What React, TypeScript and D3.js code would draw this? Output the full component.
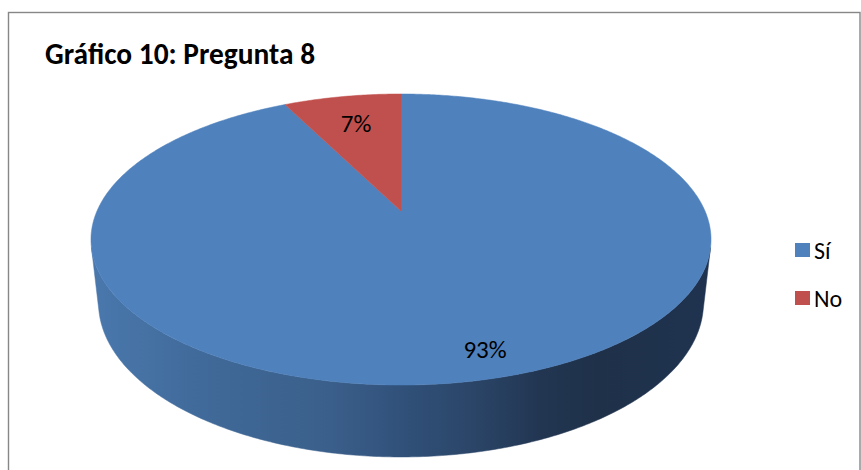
import React from "react";
import * as d3 from "d3";

const chartTitle = "Gráfico 10: Pregunta 8";
const categories = ["Sí", "No"];
const values = [25, 2];
const topColors = ["#4f81bd", "#c0504d"];
const sideStops = [
  ["#4a78ad", "#416b9b", "#3a5f8a", "#31517a", "#2a4466", "#223652", "#1f3149", "#1f3350"],
  ["#b04a47", "#a34442", "#943d3b", "#833634", "#712e2d", "#5f2726", "#522120", "#4f2120"],
];
const stopOffsets = [0, 0.16, 0.385, 0.5, 0.627, 0.724, 0.82, 1];

const W = 861;
const H = 470;
const FONT = "Carlito, Calibri, Lato, 'Noto Sans', sans-serif";

// perspective camera for the 3D pie
const CX = 401;
const CY = 211;
const SIN = 0.4603;
const COS = 0.8878;
const DIST = 4.532;
const FOC = 1377.8;
const THICK = 0.2362;

function proj(X: number, Y: number, Z: number): [number, number] {
  const d = DIST + Y * COS - Z * SIN;
  return [CX + (FOC * X) / d, CY - (FOC * (Y * SIN + Z * COS)) / d];
}
function pt(a: number, r: number, z: number): [number, number] {
  return proj(r * Math.sin(a), r * Math.cos(a), z);
}
function arcPts(a0: number, a1: number, r: number, z: number): [number, number][] {
  const n = Math.max(2, Math.ceil(Math.abs(a1 - a0) / 0.01));
  return d3.range(n + 1).map((i) => pt(a0 + ((a1 - a0) * i) / n, r, z));
}

export default function App() {
  const pie = d3
    .pie<number>()
    .sort(null)
    .value((d) => d)
    .startAngle(0)
    .endAngle(2 * Math.PI);
  const arcs = pie(values);
  const total = d3.sum(values);
  const fmt = d3.format(".0%");
  const line = d3.line().curve(d3.curveLinearClosed);

  // silhouette tangent angles of the cylinder side
  const yT = -1 / (DIST * COS);
  const xT = Math.sqrt(1 - yT * yT);
  const aR = Math.atan2(xT, yT);
  const aL = 2 * Math.PI - aR;
  const gx1 = pt(aL, 1, 0)[0];
  const gx2 = pt(aR, 1, 0)[0];

  const labelR = (v: number) => (v / total < 0.2 ? 0.73 : 0.86);

  return (
    <svg
      width={W}
      height={H}
      style={{ position: "absolute", left: 0, top: 0, background: "#fff" }}
    >
      <defs>
        {arcs.map((a, i) => (
          <linearGradient
            key={i}
            id={`side${i}`}
            gradientUnits="userSpaceOnUse"
            x1={gx1}
            x2={gx2}
            y1={0}
            y2={0}
          >
            {stopOffsets.map((o, j) => (
              <stop key={j} offset={o} stopColor={sideStops[i][j]} />
            ))}
          </linearGradient>
        ))}
      </defs>
      <rect x={8.5} y={12.5} width={851.5} height={500} fill="#fff" stroke="#878787" strokeWidth={1.4} />
      <text x={45} y={64} fontFamily={FONT} fontWeight="bold" fontSize={29.4} fill="#000">
        {chartTitle}
      </text>

      {/* sides */}
      {arcs.map((a, i) => {
        const lo = Math.max(a.startAngle, aR);
        const hi = Math.min(a.endAngle, aL);
        if (lo >= hi) return null;
        const pts = [...arcPts(lo, hi, 1, 0), ...arcPts(hi, lo, 1, -THICK)];
        return <path key={i} d={line(pts) || ""} fill={`url(#side${i})`} stroke={`url(#side${i})`} strokeWidth={0.5} />;
      })}

      {/* top faces */}
      {arcs.map((a, i) => {
        const pts: [number, number][] = [proj(0, 0, 0), ...arcPts(a.startAngle, a.endAngle, 1, 0)];
        return <path key={i} d={line(pts) || ""} fill={topColors[i]} stroke={topColors[i]} strokeWidth={0.5} />;
      })}

      {/* data labels */}
      {arcs.map((a, i) => {
        const mid = (a.startAngle + a.endAngle) / 2 - (a.value / total > 0.5 ? 0.04 : 0);
        const [x, y] = pt(mid, labelR(a.value), 0);
        return (
          <text key={i} x={x} y={y} textAnchor="middle" dominantBaseline="central" fontFamily={FONT} fontSize={25} fill="#000">
            {fmt(a.value / total)}
          </text>
        );
      })}

      {/* legend */}
      {categories.map((c, i) => (
        <g key={c} transform={`translate(795, ${243 + i * 48})`}>
          <rect x={0} y={0} width={15} height={14} fill={topColors[i]} />
          <text x={19} y={7} dominantBaseline="central" fontFamily={FONT} fontSize={24} fill="#000">
            {c}
          </text>
        </g>
      ))}
    </svg>
  );
}
